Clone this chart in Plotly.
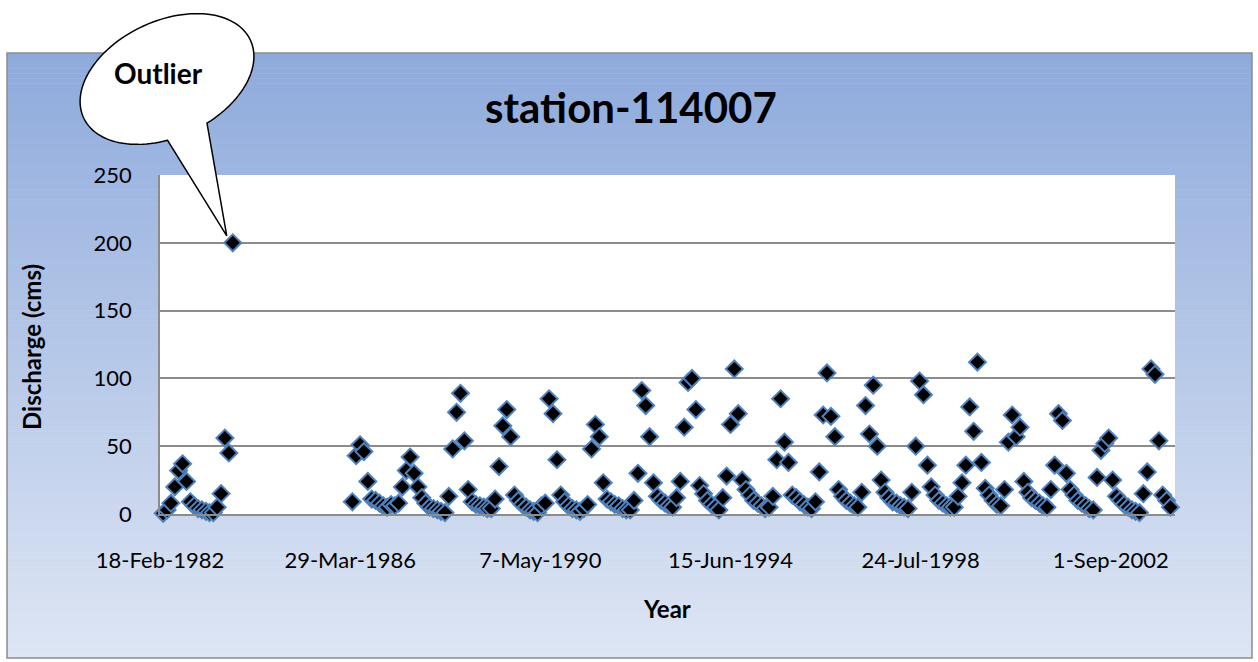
import numpy as np
import pandas as pd
import plotly.graph_objects as go

# Monthly discharge (cms) at station 114007, one value per month
flow_1982_1983 = [2, 0.5, 3, 8, 20, 32, 37, 24, 9, 6, 4,        # Feb-Dec 1982
                  3, 2, 1, 1, 5, 15, 56, 45, 200]               # Jan-Sep 1983
flow_1986_1989 = [9, 43, 51, 46, 24, 11, 10, 8, 6,              # Apr-Dec 1986
                  5, 7, 6, 8, 20, 32, 42, 30, 20, 12, 8, 5,     # 1987
                  4, 3, 2, 1, 13, 48, 75, 89, 54, 18, 9, 7,     # 1988
                  6, 5, 4, 4, 11, 35, 65, 77, 57, 14, 10, 7]    # 1989
flow_1990_1994 = [5, 3, 2, 1, 6, 8, 85, 74, 40, 14, 9, 6,       # 1990
                  4, 3, 2, 4, 7, 48, 66, 57, 23, 11, 9, 7,      # 1991
                  6, 4, 3, 3, 10, 30, 91, 80, 57, 23, 13, 10,   # 1992
                  8, 6, 5, 12, 24, 64, 97, 100, 77, 21, 15, 10, # 1993
                  7, 5, 3, 12, 28, 66, 107, 74, 25, 18, 14, 10] # 1994
flow_1995_1999 = [8, 6, 4, 5, 13, 40, 85, 53, 38, 14, 12, 9,    # 1995
                  7, 5, 4, 9, 31, 73, 104, 72, 57, 18, 13, 10,  # 1996
                  8, 6, 5, 16, 80, 59, 95, 50, 25, 16, 12, 9,   # 1997
                  8, 6, 5, 4, 16, 50, 98, 88, 36, 20, 14, 10,   # 1998
                  8, 6, 5, 5, 13, 23, 36, 79, 61, 112, 38, 19]  # 1999
flow_2000_2003 = [14, 10, 7, 6, 18, 53, 73, 57, 64, 24, 16, 12, # 2000
                  10, 8, 6, 5, 18, 36, 74, 69, 30, 18, 14, 10,  # 2001
                  8, 6, 4, 3, 27, 47, 52, 56, 25, 13, 10, 7,    # 2002
                  5, 3, 2, 1, 15, 31, 107, 103, 54, 14, 10, 5]  # 2003

# first month of each stretch of record
segment_starts = ["1982-02-01", "1986-04-01", "1990-01-01", "1995-01-01", "2000-01-01"]
segments = [flow_1982_1983, flow_1986_1989, flow_1990_1994, flow_1995_1999, flow_2000_2003]

tick_dates = ["1982-02-18", "1986-03-29", "1990-05-07", "1994-06-15", "1998-07-24", "2002-09-01"]
tick_labels = ["18-Feb-1982", "29-Mar-1986", "7-May-1990", "15-Jun-1994", "24-Jul-1998", "1-Sep-2002"]
x_start, x_end = "1982-02-18", "2004-01-20"
y_ticks = [0, 50, 100, 150, 200, 250]

dates, values = [], []
for start, seg in zip(segment_starts, segments):
    months = pd.date_range(start, periods=len(seg), freq="MS") + pd.Timedelta(days=14)
    dates.extend(months)
    values.extend(seg)
dates = pd.DatetimeIndex(dates)
values = np.array(values, dtype=float)

# page geometry (pixels)
W, H = 1258, 662
L, R, T, B = 160, 1175, 175, 514
FRAME = (7, 53, 1252, 658)


def fx(px):
    return (px - L) / (R - L)


def fy(py):
    return (B - py) / (B - T)


FONT = "Lato, 'Open Sans', sans-serif"

fig = go.Figure()
fig.add_trace(go.Scatter(
    x=dates, y=values, mode="markers", cliponaxis=False, showlegend=False,
    marker=dict(symbol="diamond", size=13, color="black",
                line=dict(color="#4f81bd", width=2)),
    hovertemplate="%{x|%d-%b-%Y}: %{y} cms<extra></extra>",
))

shapes = []
# vertical blue gradient behind the chart
top_c = np.array([142, 170, 220])
bot_c = np.array([222, 230, 244])
n_bands = 120
x0f, y0f, x1f, y1f = FRAME
edges = np.linspace(y0f, y1f, n_bands + 1)
for i in range(n_bands):
    c = top_c + (bot_c - top_c) * (i + 0.5) / n_bands
    shapes.append(dict(type="rect", xref="paper", yref="paper", layer="below",
                       x0=fx(x0f), x1=fx(x1f), y0=fy(edges[i]), y1=fy(edges[i + 1] + 0.6),
                       fillcolor="rgb(%d,%d,%d)" % tuple(c.round()), line=dict(width=0)))
shapes.append(dict(type="rect", xref="paper", yref="paper", layer="below",
                   x0=fx(x0f), x1=fx(x1f), y0=fy(y0f), y1=fy(y1f),
                   fillcolor="rgba(0,0,0,0)", line=dict(color="#8c8c8c", width=1.5)))
# white plotting area
shapes.append(dict(type="rect", xref="paper", yref="paper", layer="below",
                   x0=0, x1=1, y0=0, y1=1, fillcolor="white", line=dict(width=0)))

# speech-bubble callout pointing at the largest value
imax = int(np.argmax(values))
span = (pd.Timestamp(x_end) - pd.Timestamp(x_start)).total_seconds()
ox = L + (dates[imax] - pd.Timestamp(x_start)).total_seconds() / span * (R - L)
oy = B - values[imax] / 250 * (B - T)
tip = (ox - 6, oy - 7)
cx, cy, a, b, th = 167, 79, 92, 58, np.radians(25)
u = np.array([np.cos(th), -np.sin(th)])
v = np.array([np.sin(th), np.cos(th)])
ts = np.radians(np.linspace(106, 79 + 360, 120))
pts = [np.array([cx, cy]) + a * np.cos(t) * u + b * np.sin(t) * v for t in ts]
pts.append(np.array(tip))
path = "M " + " L ".join("%.5f,%.5f" % (fx(p[0]), fy(p[1])) for p in pts) + " Z"
shapes.append(dict(type="path", xref="paper", yref="paper", layer="above", path=path,
                   fillcolor="white", line=dict(color="black", width=1.5)))

annotations = [
    dict(text="<b>station-114007</b>", x=fx(631), y=fy(107), xref="paper", yref="paper",
         showarrow=False, font=dict(family=FONT, size=42, color="black"),
         xanchor="center", yanchor="middle"),
    dict(text="<b>Year</b>", x=fx(667), y=fy(608), xref="paper", yref="paper",
         showarrow=False, font=dict(family=FONT, size=24, color="black"),
         xanchor="center", yanchor="middle"),
    dict(text="<b>Discharge (cms)</b>", x=fx(31), y=fy(347), xref="paper", yref="paper",
         showarrow=False, textangle=-90, font=dict(family=FONT, size=24, color="black"),
         xanchor="center", yanchor="middle"),
    dict(text="<b>Outlier</b>", x=fx(158), y=fy(73), xref="paper", yref="paper",
         showarrow=False, font=dict(family=FONT, size=28, color="black"),
         xanchor="center", yanchor="middle"),
]

fig.update_layout(
    width=W, height=H, autosize=False,
    margin=dict(l=L, r=W - R, t=T, b=H - B, pad=0),
    paper_bgcolor="white", plot_bgcolor="white",
    shapes=shapes, annotations=annotations,
    xaxis=dict(type="date", range=[x_start, x_end], tickvals=tick_dates, ticktext=tick_labels,
               showgrid=False, zeroline=False, showline=True, linecolor="#8c8c8c", linewidth=1.5,
               ticks="", ticklabelstandoff=26, fixedrange=True,
               tickfont=dict(family=FONT, size=22, color="black")),
    yaxis=dict(range=[0, 250], tickvals=y_ticks, showgrid=True, gridcolor="#8c8c8c", gridwidth=1.5,
               zeroline=False, showline=True, linecolor="#8c8c8c", linewidth=1.5,
               ticks="", ticklabelstandoff=22, fixedrange=True,
               tickfont=dict(family=FONT, size=22, color="black")),
)

fig.write_html("out.html")
